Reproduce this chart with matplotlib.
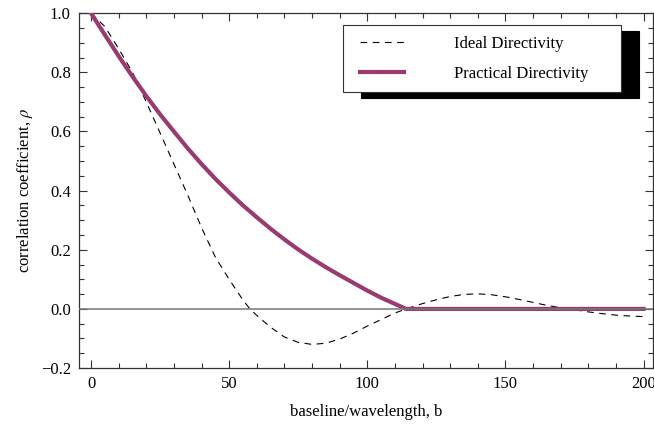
import numpy as np
import matplotlib.pyplot as plt
from matplotlib.ticker import MultipleLocator, FuncFormatter
from matplotlib.legend_handler import HandlerLine2D

plt.rcParams['font.family'] = ['Liberation Serif', 'DejaVu Serif']
plt.rcParams['mathtext.fontset'] = 'stix'

# values
b_ideal = [0, 5, 10, 15, 20, 25, 30, 35, 40, 45, 50, 55, 57.5, 60, 65, 70, 75, 80,
           85, 90, 95, 100, 105, 110, 114, 120, 125, 130, 135, 140, 145, 150, 155,
           160, 165, 170, 175, 180, 185, 190, 195, 200]
rho_ideal = [1.0, 0.955, 0.88, 0.80, 0.70, 0.595, 0.49, 0.385, 0.275, 0.175, 0.10, 0.03,
             0.0, -0.022, -0.062, -0.095, -0.113, -0.12, -0.116, -0.102, -0.082, -0.058,
             -0.036, -0.014, 0.0, 0.018, 0.031, 0.042, 0.049, 0.051, 0.048, 0.041, 0.032,
             0.022, 0.012, 0.004, -0.003, -0.01, -0.016, -0.021, -0.024, -0.026]

b_prac = [0, 5, 10, 15, 20, 25, 30, 35, 40, 45, 50, 55, 60, 65, 70, 75, 80, 85, 90,
          95, 100, 105, 110, 114, 150, 200]
rho_prac = [1.0, 0.927, 0.855, 0.786, 0.72, 0.658, 0.60, 0.543, 0.49, 0.44, 0.394, 0.35,
            0.31, 0.271, 0.235, 0.201, 0.17, 0.141, 0.114, 0.088, 0.062, 0.038, 0.017,
            0.0, 0.0, 0.0]

purple = '#993b70'

fig = plt.figure(figsize=(6.54, 4.26), dpi=100)
ax = fig.add_axes([0.121, 0.136, 0.877, 0.833])

ax.plot(b_ideal, rho_ideal, c='black', lw=0.8, ls=(0, (6, 5)), label='Ideal Directivity', zorder=2)
ax.plot(b_prac, rho_prac, c=purple, lw=3, label='Practical Directivity', zorder=3)
ax.axhline(0, c='#777777', lw=1.1, zorder=4)

ax.set_xlim(-4.3, 203.3)
ax.set_ylim(-0.2, 1.0)
ax.xaxis.set_major_locator(MultipleLocator(50))
ax.xaxis.set_minor_locator(MultipleLocator(10))
ax.yaxis.set_major_locator(MultipleLocator(0.2))
ax.yaxis.set_minor_locator(MultipleLocator(0.05))
ax.yaxis.set_major_formatter(FuncFormatter(lambda v, p: ('%.1f' % v).replace('-', '\u2212')))
ax.tick_params(which='both', direction='in', top=True, right=True, color='#333333',
               labelsize=12, width=0.8)
ax.tick_params(which='major', length=6, pad=6)
ax.tick_params(which='minor', length=3.5)
for s in ax.spines.values():
    s.set_color('#333333')
    s.set_linewidth(0.9)

ax.set_xlabel('baseline/wavelength, b', size=12, labelpad=8)
ax.set_ylabel(r'correlation coefficient, $\rho$', size=12, labelpad=4)

leg = ax.legend(loc='upper left', bbox_to_anchor=(0.46, 0.966, 0.484, 0), mode='expand',
                borderaxespad=0, fontsize=12, handlelength=3.05, handletextpad=3.0,
                labelspacing=0.85, borderpad=0.62, fancybox=False, framealpha=1,
                edgecolor='#333333',
                handler_map={plt.Line2D: HandlerLine2D(xpad=0.42)},
                shadow={'ox': 13, 'oy': -4.3, 'color': 'black', 'alpha': 1})
leg.get_frame().set_linewidth(0.8)

fig.savefig('out.png', dpi=100)
